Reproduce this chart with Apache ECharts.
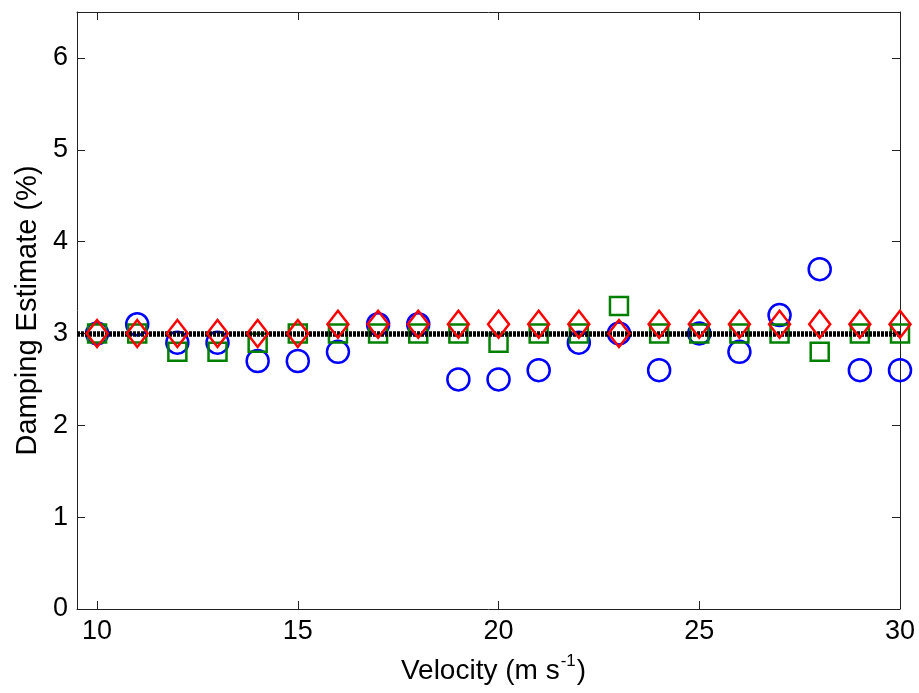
<!DOCTYPE html>
<html>
<head>
<meta charset="utf-8">
<script src="https://cdn.jsdelivr.net/npm/echarts@6/dist/echarts.min.js"></script>
<style>html,body{margin:0;padding:0;background:#fff;}#c{width:919px;height:693px;}</style>
</head>
<body>
<div id="c"></div>
<script>
const velocity = [10,11,12,13,14,15,16,17,18,19,20,21,22,23,24,25,26,27,28,29,30];
const circleEst = [3.0,3.1,2.9,2.9,2.7,2.7,2.8,3.1,3.1,2.5,2.5,2.6,2.9,3.0,2.6,3.0,2.8,3.2,3.7,2.6,2.6];
const squareEst = [3.0,3.0,2.8,2.8,2.9,3.0,3.0,3.0,3.0,3.0,2.9,3.0,3.0,3.3,3.0,3.0,3.0,3.0,2.8,3.0,3.0];
const diamondEst = [3.0,3.0,3.0,3.0,3.0,3.0,3.1,3.1,3.1,3.1,3.1,3.1,3.1,3.0,3.1,3.1,3.1,3.1,3.1,3.1,3.1];
const trueDamping = 3;
const xTicks = [10,15,20,25,30];
const yTicks = [0,1,2,3,4,5,6];

const FONT = '"Liberation Sans", Arial, sans-serif';
const AX = '#222';
function pairs(ys){ return velocity.map((v,i)=>[v, ys[i]]); }

const chart = echarts.init(document.getElementById('c'), null, {renderer:'canvas'});
const baseX = {
  type:'value', min:9.5, max:30,
  axisLine:{show:true, onZero:false, lineStyle:{color:AX, width:1}},
  axisTick:{show:true, inside:true, length:8, customValues:xTicks, lineStyle:{color:AX}},
  splitLine:{show:false}
};
const baseY = {
  type:'value', min:0, max:6.5,
  axisLine:{show:true, onZero:false, lineStyle:{color:AX, width:1}},
  axisTick:{show:true, inside:true, length:8, customValues:yTicks, lineStyle:{color:AX}},
  splitLine:{show:false}
};
chart.setOption({
  animation:false,
  backgroundColor:'#fff',
  grid:{left:77, right:19, top:12, bottom:84, containLabel:false},
  xAxis:[
    Object.assign({}, baseX, {
      position:'bottom',
      axisLabel:{customValues:xTicks, fontSize:27, fontFamily:FONT, color:'#000', margin:9},
      name:'{a|Velocity (m s}{s|-1}{a|)}',
      nameLocation:'middle', nameGap:44,
      nameTextStyle:{
        padding:[0,0,0,10],
        rich:{
          a:{fontSize:28, fontFamily:FONT, color:'#000', lineHeight:32, verticalAlign:'bottom'},
          s:{fontSize:17, fontFamily:FONT, color:'#000', lineHeight:32, verticalAlign:'top', padding:[0,1,14,1]}
        }
      }
    }),
    Object.assign({}, baseX, {position:'top', axisLabel:{show:false}})
  ],
  yAxis:[
    Object.assign({}, baseY, {
      position:'left',
      axisLabel:{customValues:yTicks, fontSize:27, fontFamily:FONT, color:'#000', margin:9},
      name:'Damping Estimate (%)',
      nameLocation:'middle', nameGap:31,
      nameTextStyle:{fontSize:29, fontFamily:FONT, color:'#000'}
    }),
    Object.assign({}, baseY, {position:'right', axisLabel:{show:false}})
  ],
  series:[
    {
      type:'line', data:[], z:1,
      markLine:{
        silent:true, symbol:['none','none'], label:{show:false},
        lineStyle:{color:'#000', width:5.5, type:[3,1], opacity:1},
        data:[{yAxis:trueDamping}]
      }
    },
    {
      type:'scatter', data:pairs(circleEst), symbol:'circle', symbolSize:22, z:3,
      itemStyle:{color:'transparent', borderColor:'#0000ff', borderWidth:2.5, opacity:1}
    },
    {
      type:'scatter', data:pairs(squareEst), symbol:'rect', symbolSize:18, z:4,
      itemStyle:{color:'transparent', borderColor:'#008000', borderWidth:2.5, opacity:1}
    },
    {
      type:'scatter', data:pairs(diamondEst), symbol:'diamond', symbolSize:[21,27], z:5,
      itemStyle:{color:'transparent', borderColor:'#ff0000', borderWidth:2.5, opacity:1}
    }
  ]
});
</script>
</body>
</html>
